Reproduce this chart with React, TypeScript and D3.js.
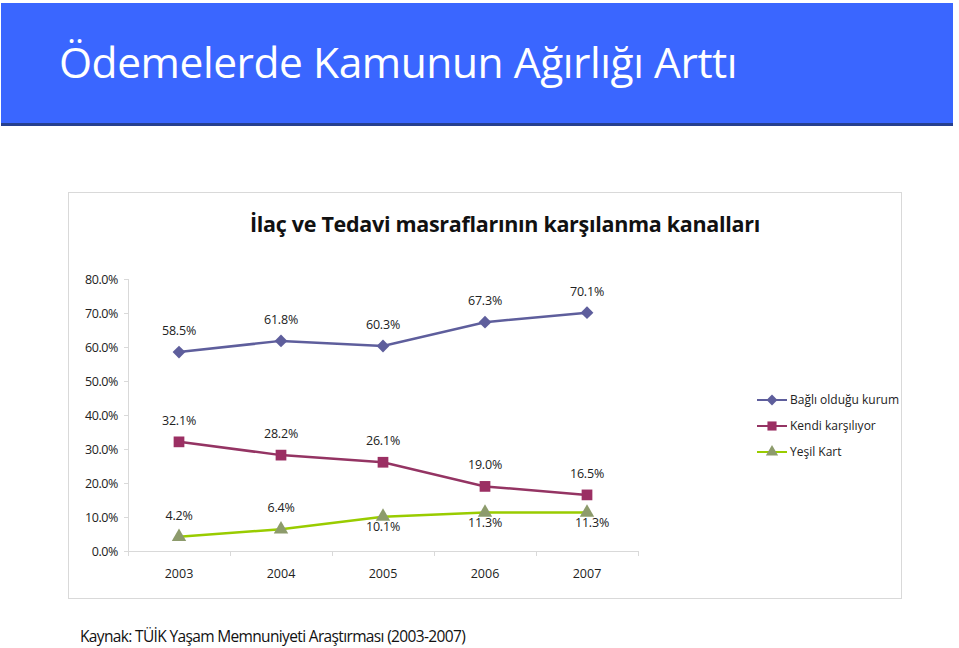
import React from "react";
import * as d3 from "d3";

const years = ["2003", "2004", "2005", "2006", "2007"];
const bagli = [58.5, 61.8, 60.3, 67.3, 70.1];
const kendi = [32.1, 28.2, 26.1, 19.0, 16.5];
const yesil = [4.2, 6.4, 10.1, 11.3, 11.3];
const yTicks = [0, 10, 20, 30, 40, 50, 60, 70, 80];
const seriesNames = ["Bağlı olduğu kurum", "Kendi karşılıyor", "Yeşil Kart"];
const greenLabelBelow = [false, false, true, true, true];

const FONT = "'Open Sans', 'DejaVu Sans', sans-serif";

export default function App() {
  const W = 959, H = 648;
  const x = d3.scaleBand<string>().domain(years).range([128, 638]);
  const y = d3.scaleLinear().domain([0, 80]).range([551, 279]);
  const cx = (i: number) => (x(years[i]) as number) + x.bandwidth() / 2;
  const line = d3.line<number>().x((_, i) => cx(i)).y((d) => y(d));
  const fmt = (v: number) => v.toFixed(1) + "%";

  const diamond = d3.symbol().type(d3.symbolSquare).size(82)();
  const square = d3.symbol().type(d3.symbolSquare).size(115)();
  const tri = d3.symbol().type(d3.symbolTriangle).size(90)();

  const series = [
    { name: seriesNames[0], data: bagli, color: "#5E5E9C", mcolor: "#5E5E9C", shape: diamond, rot: 45 },
    { name: seriesNames[1], data: kendi, color: "#943463", mcolor: "#9B2F63", shape: square, rot: 0 },
    { name: seriesNames[2], data: yesil, color: "#99CC00", mcolor: "#8D9B6C", shape: tri, rot: 0 },
  ];

  const boundaries = years.map((yr) => x(yr) as number).concat([638]);

  return (
    <div style={{ position: "fixed", left: 0, top: 0 }}>
      <svg width={W} height={H} style={{ display: "block", background: "#fff" }}>
        {/* header */}
        <rect x={1} y={3} width={952} height={121} fill="#3A66FF" />
        <rect x={1} y={123} width={952} height={3} fill="#26408F" />
        <text x={59} y={78} fill="#fff" fontFamily={FONT} fontSize={42.5} letterSpacing={-0.45}>
          Ödemelerde Kamunun Ağırlığı Arttı
        </text>

        {/* chart frame */}
        <rect x={68.5} y={192.5} width={833} height={406} fill="#fff" stroke="#D9D9D9" strokeWidth={1} />
        <text x={505} y={232} textAnchor="middle" fontFamily={FONT} fontWeight="bold" fontSize={21.5} fill="#111" letterSpacing={-0.3}>
          İlaç ve Tedavi masraflarının karşılanma kanalları
        </text>

        {/* y axis */}
        <line x1={128.5} x2={128.5} y1={y(80)} y2={y(0)} stroke="#D9D9D9" />
        {yTicks.map((t) => (
          <g key={t}>
            <line x1={124} x2={128.5} y1={y(t) + 0.5} y2={y(t) + 0.5} stroke="#D9D9D9" />
            <text x={118} y={y(t) + 4.5} textAnchor="end" fontFamily={FONT} fontSize={12.5} fill="#222" letterSpacing={-0.4}>
              {t.toFixed(1) + "%"}
            </text>
          </g>
        ))}

        {/* x axis */}
        <line x1={128} x2={638} y1={y(0) + 0.5} y2={y(0) + 0.5} stroke="#D9D9D9" />
        {boundaries.map((b, i) => (
          <line key={i} x1={b + 0.5} x2={b + 0.5} y1={y(0)} y2={y(0) + 5} stroke="#D9D9D9" />
        ))}
        {years.map((yr, i) => (
          <text key={yr} x={cx(i)} y={578} textAnchor="middle" fontFamily={FONT} fontSize={12.5} fill="#222">
            {yr}
          </text>
        ))}

        {/* series */}
        {series.map((s, si) => (
          <g key={s.name}>
            <path d={line(s.data) as string} fill="none" stroke={s.color} strokeWidth={2.5} />
            {s.data.map((v, i) => (
              <path key={i} d={s.shape as string} transform={`translate(${cx(i)},${y(v)}) rotate(${s.rot})`} fill={s.mcolor} />
            ))}
            {s.data.map((v, i) => {
              const below = si === 2 && greenLabelBelow[i];
              return (
                <text
                  key={"l" + i}
                  x={cx(i) + (below && i === 4 ? 5 : 0)}
                  y={below ? y(v) + 14 : y(v) - 17}
                  textAnchor="middle"
                  fontFamily={FONT}
                  fontSize={12.5}
                  fill="#222"
                  letterSpacing={-0.2}
                >
                  {fmt(v)}
                </text>
              );
            })}
          </g>
        ))}

        {/* legend */}
        {series.map((s, i) => {
          const ly = 400 + i * 26;
          return (
            <g key={"lg" + i}>
              <line x1={757} x2={787} y1={ly} y2={ly} stroke={s.color} strokeWidth={2} />
              <path d={s.shape as string} transform={`translate(772,${ly}) scale(0.85) rotate(${s.rot})`} fill={s.mcolor} />
              <text x={790} y={ly + 4} fontFamily={FONT} fontSize={12} fill="#222" letterSpacing={0}>
                {s.name}
              </text>
            </g>
          );
        })}

        {/* footer */}
        <text x={80} y={642} fontFamily={FONT} fontSize={15.5} fill="#111" letterSpacing={-0.65}>
          Kaynak: TÜİK Yaşam Memnuniyeti Araştırması (2003-2007)
        </text>
      </svg>
    </div>
  );
}
